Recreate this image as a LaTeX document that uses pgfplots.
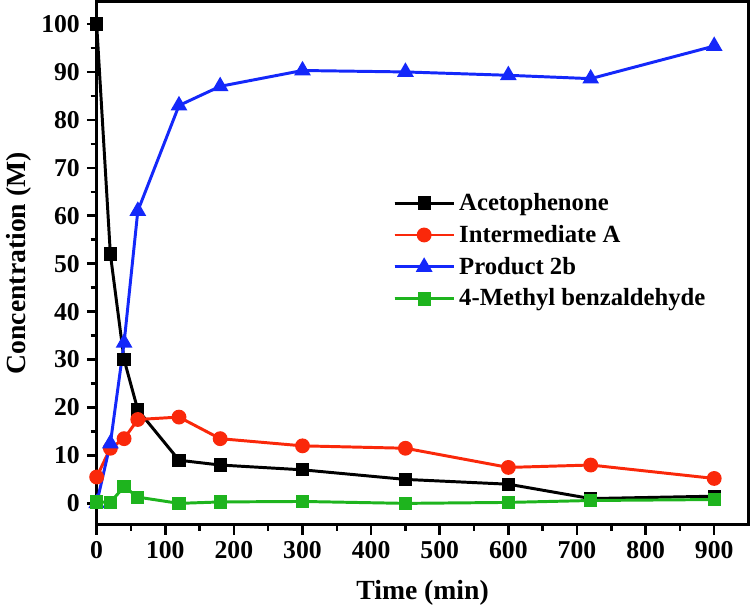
\documentclass[border=0pt]{standalone}
\usepackage{fontspec}
\setmainfont{Liberation Serif}
\usepackage{pgfplots}
\pgfplotsset{compat=1.18}
\definecolor{cblue}{RGB}{20,40,250}
\definecolor{cred}{RGB}{250,40,10}
\definecolor{cgreen}{RGB}{30,180,30}
\begin{document}
\begin{tikzpicture}
\begin{axis}[
  scale only axis,
  width=330pt, height=265pt,
  xmin=0, xmax=950, ymin=-4.5, ymax=104.7,
  xtick={0,100,...,900}, ytick={0,10,...,100},
  minor x tick num=1, minor y tick num=1,
  axis line style={line width=1.5pt},
  tick style={line width=1.3pt, black},
  major tick length=5pt, minor tick length=3pt,
  tick align=outside,
  xtick pos=bottom, ytick pos=left,
  /pgf/number format/assume math mode=true,
  ticklabel style={font=\fontsize{13}{15}\selectfont\bfseries},
  xlabel={Time (min)}, ylabel={Concentration (M)},
  label style={font=\fontsize{14}{16}\selectfont\bfseries},
  xlabel style={yshift=-4pt},
  ylabel style={yshift=-2pt},
  legend style={draw=none, fill=none, at={(0.445,0.65)}, anchor=north west,
    font=\fontsize{12.5}{15}\selectfont\bfseries, row sep=2pt},
  legend cell align=left,
  legend image code/.code={\draw[#1] (0pt,0pt) -- (30pt,0pt); \draw[#1, mark repeat=2, mark phase=2] plot coordinates {(0pt,0pt) (15pt,0pt) (30pt,0pt)};},
  every axis plot/.append style={line width=1.5pt},
]
\addplot[black, mark=square*, mark size=2.6pt, mark options={solid}] coordinates {
(0,100) (20,52) (40,30) (60,19.5) (120,9) (180,8) (300,7) (450,5) (600,4) (720,1) (900,1.5)};
\addlegendentry{Acetophenone}
\addplot[cred, mark=*, mark size=3pt] coordinates {
(0,5.5) (20,11.5) (40,13.5) (60,17.5) (120,18) (180,13.5) (300,12) (450,11.5) (600,7.5) (720,8) (900,5.2)};
\addlegendentry{Intermediate A}
\addplot[cblue, mark=triangle*, mark size=3.4pt] coordinates {
(0,0) (20,12.5) (40,33.5) (60,61) (120,83) (180,87) (300,90.3) (450,90) (600,89.3) (720,88.6) (900,95.4)};
\addlegendentry{Product 2b}
\addplot[cgreen, mark=square*, mark size=2.6pt] coordinates {
(0,0.3) (20,0.2) (40,3.5) (60,1.3) (120,0) (180,0.3) (300,0.4) (450,0) (600,0.2) (720,0.6) (900,0.8)};
\addlegendentry{4-Methyl benzaldehyde}
\end{axis}
\end{tikzpicture}
\end{document}
